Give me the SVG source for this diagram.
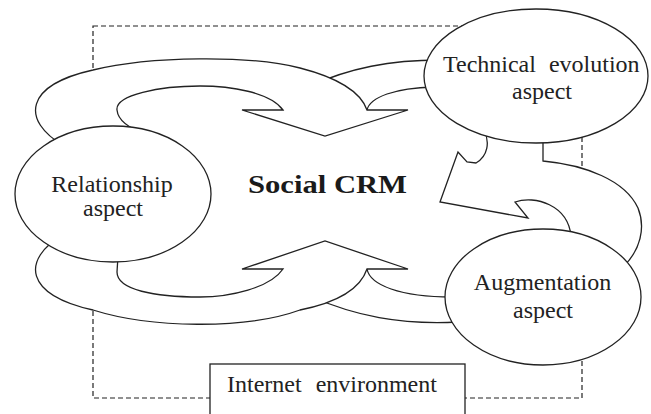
<svg xmlns="http://www.w3.org/2000/svg" width="651" height="414" viewBox="0 0 651 414">
  <style>
    .band { fill: #ffffff; stroke: #222222; stroke-width: 1.3; stroke-linejoin: miter; }
    .node { fill: #ffffff; stroke: #222222; stroke-width: 1.3; }
    .boundary { fill: none; stroke: #222222; stroke-width: 1.2; stroke-dasharray: 5 3; }
    text { font-family: "Liberation Serif", "Times New Roman", Times, serif; }
    .label { font-size: 24px; fill: #222222; }
    .mid { text-anchor: middle; }
    .title { font-size: 26px; font-weight: bold; fill: #1a1a1a; }
  </style>

  <rect width="651" height="414" fill="#ffffff"/>

  <!-- dashed environment boundary -->
  <g id="boundary">
    <rect class="boundary" x="93" y="26" width="489" height="372"/>
  </g>

  <!-- curved arrows linking the aspects around the centre -->
  <g id="connectors">
    <!-- band leaving the technical aspect, merging into the top arrow -->
    <path class="band" d="M 440,60 C 390,60 350,68 310,86 L 330,108 L 367,110 C 370,97 395,88 434,87 Z"/>
    <!-- top arrow from the relationship aspect, pointing down -->
    <path class="band" d="M 64,146 C 20,120 25,85 93,70 C 150,56 250,55 300,68 C 335,77 360,90 367,110 L 408,110 L 325,136 L 242,110 L 283,110 C 270,92 230,86 200,86 C 160,86 115,95 117,110 C 118,120 128,128 146,134 Z"/>
    <!-- band leaving the augmentation aspect, merging into the bottom arrow -->
    <path class="band" d="M 458,322 C 400,325 355,316 310,296 L 330,271 L 367,269 C 370,285 400,297 452,297 Z"/>
    <!-- bottom arrow from the relationship aspect, pointing up -->
    <path class="band" d="M 64,234 C 20,260 25,295 93,310 C 150,328 245,330 300,310 C 335,303 360,290 367,269 L 408,269 L 325,241 L 242,269 L 283,269 C 270,288 230,297 200,297 C 155,297 117,290 117,272 L 118,256 Z"/>
    <!-- S-shaped arrow between technical and augmentation aspects, pointing left -->
    <path class="band" d="M 484,130 C 490,142 488,156 476,163 L 467,162 L 458,152 L 440,202 L 528,218 L 515,202 C 535,195 568,205 571,236 L 600,262 L 624,266 C 640,250 646,228 638,208 C 625,180 585,165 543,161 L 543,128 Z"/>
  </g>

  <g id="relationship">
    <ellipse class="node" cx="113" cy="194" rx="98" ry="68"/>
    <text class="label mid" x="112" y="192">Relationship</text>
    <text class="label mid" x="113" y="216">aspect</text>
  </g>

  <g id="technical">
    <ellipse class="node" cx="536" cy="76" rx="112" ry="67"/>
    <text class="label" x="443" y="72" word-spacing="7">Technical evolution</text>
    <text class="label mid" x="542" y="99">aspect</text>
  </g>

  <g id="augmentation">
    <ellipse class="node" cx="543" cy="297" rx="98" ry="68"/>
    <text class="label mid" x="542.5" y="290">Augmentation</text>
    <text class="label mid" x="543" y="318">aspect</text>
  </g>

  <g id="social-crm">
    <text class="title" x="248" y="193" textLength="159" lengthAdjust="spacingAndGlyphs">Social CRM</text>
  </g>

  <g id="internet-environment">
    <rect class="node" x="210" y="364" width="255" height="60"/>
    <text class="label" x="227" y="392" word-spacing="8">Internet environment</text>
  </g>
</svg>
